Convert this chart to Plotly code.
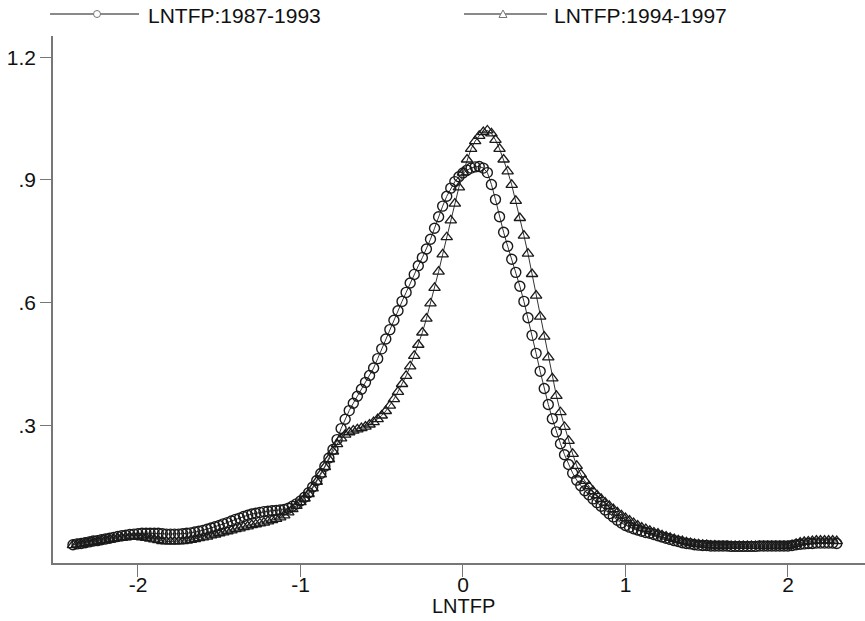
import plotly.graph_objects as go

# Evaluation grid of the kernel density (LNTFP)
lntfp_grid = [
    -2.400, -2.375, -2.350, -2.325, -2.300, -2.275, -2.250, -2.225, -2.200, -2.175,
    -2.150, -2.125, -2.100, -2.075, -2.050, -2.025, -2.000, -1.975, -1.950, -1.925,
    -1.900, -1.875, -1.850, -1.825, -1.800, -1.775, -1.750, -1.725, -1.700, -1.675,
    -1.650, -1.625, -1.600, -1.575, -1.550, -1.525, -1.500, -1.475, -1.450, -1.425,
    -1.400, -1.375, -1.350, -1.325, -1.300, -1.275, -1.250, -1.225, -1.200, -1.175,
    -1.150, -1.125, -1.100, -1.075, -1.050, -1.025, -1.000, -0.975, -0.950, -0.925,
    -0.900, -0.875, -0.850, -0.825, -0.800, -0.775, -0.750, -0.725, -0.700, -0.675,
    -0.650, -0.625, -0.600, -0.575, -0.550, -0.525, -0.500, -0.475, -0.450, -0.425,
    -0.400, -0.375, -0.350, -0.325, -0.300, -0.275, -0.250, -0.225, -0.200, -0.175,
    -0.150, -0.125, -0.100, -0.075, -0.050, -0.025, 0.000, 0.025, 0.050, 0.075,
    0.100, 0.125, 0.150, 0.175, 0.200, 0.225, 0.250, 0.275, 0.300, 0.325,
    0.350, 0.375, 0.400, 0.425, 0.450, 0.475, 0.500, 0.525, 0.550, 0.575,
    0.600, 0.625, 0.650, 0.675, 0.700, 0.725, 0.750, 0.775, 0.800, 0.825,
    0.850, 0.875, 0.900, 0.925, 0.950, 0.975, 1.000, 1.025, 1.050, 1.075,
    1.100, 1.125, 1.150, 1.175, 1.200, 1.225, 1.250, 1.275, 1.300, 1.325,
    1.350, 1.375, 1.400, 1.425, 1.450, 1.475, 1.500, 1.525, 1.550, 1.575,
    1.600, 1.625, 1.650, 1.675, 1.700, 1.725, 1.750, 1.775, 1.800, 1.825,
    1.850, 1.875, 1.900, 1.925, 1.950, 1.975, 2.000, 2.025, 2.050, 2.075,
    2.100, 2.125, 2.150, 2.175, 2.200, 2.225, 2.250, 2.275, 2.300,
]

# Density, 1987-1993 (circles)
density_1987_1993 = [
    0.008, 0.010, 0.011, 0.013, 0.015, 0.017, 0.018, 0.020, 0.022, 0.024,
    0.026, 0.028, 0.030, 0.031, 0.033, 0.034, 0.035, 0.036, 0.036, 0.036,
    0.036, 0.036, 0.035, 0.034, 0.034, 0.034, 0.034, 0.035, 0.036, 0.037,
    0.039, 0.041, 0.043, 0.046, 0.049, 0.052, 0.055, 0.059, 0.062, 0.066,
    0.070, 0.073, 0.077, 0.080, 0.083, 0.085, 0.087, 0.089, 0.090, 0.091,
    0.092, 0.093, 0.094, 0.097, 0.102, 0.108, 0.115, 0.124, 0.135, 0.149,
    0.165, 0.182, 0.200, 0.220, 0.241, 0.265, 0.292, 0.315, 0.336, 0.354,
    0.371, 0.388, 0.405, 0.422, 0.440, 0.463, 0.487, 0.511, 0.534, 0.557,
    0.580, 0.603, 0.625, 0.648, 0.669, 0.690, 0.710, 0.731, 0.755, 0.782,
    0.810, 0.836, 0.860, 0.880, 0.896, 0.908, 0.917, 0.924, 0.929, 0.932,
    0.933, 0.929, 0.918, 0.889, 0.852, 0.810, 0.772, 0.738, 0.706, 0.674,
    0.640, 0.603, 0.563, 0.520, 0.476, 0.432, 0.390, 0.351, 0.316, 0.284,
    0.255, 0.228, 0.204, 0.183, 0.166, 0.152, 0.140, 0.130, 0.120, 0.111,
    0.102, 0.093, 0.084, 0.076, 0.068, 0.061, 0.055, 0.051, 0.047, 0.044,
    0.041, 0.038, 0.036, 0.033, 0.030, 0.027, 0.024, 0.021, 0.018, 0.016,
    0.013, 0.011, 0.010, 0.008, 0.007, 0.006, 0.006, 0.005, 0.005, 0.005,
    0.005, 0.005, 0.004, 0.004, 0.004, 0.004, 0.004, 0.004, 0.004, 0.005,
    0.005, 0.005, 0.005, 0.005, 0.005, 0.005, 0.005, 0.006, 0.008, 0.009,
    0.010, 0.011, 0.011, 0.012, 0.012, 0.012, 0.012, 0.012, 0.011,
]

# Density, 1994-1997 (triangles)
density_1994_1997 = [
    0.007, 0.009, 0.010, 0.012, 0.014, 0.015, 0.017, 0.019, 0.020, 0.022,
    0.023, 0.024, 0.025, 0.026, 0.027, 0.027, 0.027, 0.026, 0.025, 0.023,
    0.021, 0.019, 0.017, 0.016, 0.016, 0.016, 0.016, 0.017, 0.018, 0.020,
    0.022, 0.024, 0.026, 0.028, 0.031, 0.033, 0.036, 0.038, 0.041, 0.043,
    0.046, 0.048, 0.051, 0.053, 0.056, 0.058, 0.060, 0.062, 0.065, 0.068,
    0.071, 0.075, 0.080, 0.087, 0.095, 0.103, 0.112, 0.121, 0.132, 0.146,
    0.162, 0.180, 0.198, 0.217, 0.236, 0.254, 0.268, 0.277, 0.283, 0.287,
    0.290, 0.293, 0.297, 0.302, 0.308, 0.315, 0.324, 0.335, 0.348, 0.364,
    0.382, 0.401, 0.421, 0.444, 0.470, 0.497, 0.527, 0.561, 0.598, 0.636,
    0.676, 0.718, 0.760, 0.801, 0.842, 0.882, 0.918, 0.950, 0.976, 0.995,
    1.008, 1.017, 1.021, 1.014, 0.998, 0.976, 0.950, 0.921, 0.888, 0.849,
    0.807, 0.764, 0.720, 0.670, 0.617, 0.566, 0.517, 0.466, 0.415, 0.372,
    0.332, 0.296, 0.262, 0.230, 0.201, 0.180, 0.164, 0.151, 0.139, 0.129,
    0.120, 0.111, 0.103, 0.095, 0.087, 0.080, 0.073, 0.067, 0.061, 0.055,
    0.050, 0.046, 0.042, 0.038, 0.035, 0.031, 0.028, 0.025, 0.022, 0.019,
    0.017, 0.014, 0.012, 0.010, 0.009, 0.008, 0.007, 0.006, 0.006, 0.005,
    0.005, 0.005, 0.005, 0.005, 0.005, 0.005, 0.005, 0.005, 0.005, 0.005,
    0.005, 0.005, 0.005, 0.005, 0.005, 0.005, 0.005, 0.007, 0.010, 0.013,
    0.015, 0.016, 0.017, 0.018, 0.018, 0.018, 0.018, 0.018, 0.017,
]

series_names = ["LNTFP:1987-1993", "LNTFP:1994-1997"]
x_ticks = [-2, -1, 0, 1, 2]
x_tick_labels = ["-2", "-1", "0", "1", "2"]
y_ticks = [0.3, 0.6, 0.9, 1.2]
y_tick_labels = [".3", ".6", ".9", "1.2"]
x_title = "LNTFP"

FONT = "Liberation Sans, Arial, Helvetica, sans-serif"
W, H = 865, 621
# plot area in window pixels: x 53..865, y 36..563 (page margin removed below)
L, T, R, B = 53, 36, 0, 621 - 563
PW, PH = W - L - R, H - T - B


def px(xw):
    return (xw - L) / PW


def py(yw):
    return (H - B - yw) / PH


fig = go.Figure()
fig.add_trace(go.Scatter(
    x=lntfp_grid, y=density_1987_1993, mode="lines+markers", name=series_names[0],
    line=dict(color="#333333", width=1),
    marker=dict(symbol="circle-open", size=10, color="#1a1a1a", line=dict(width=1.4)),
))
fig.add_trace(go.Scatter(
    x=lntfp_grid, y=density_1994_1997, mode="lines+markers", name=series_names[1],
    line=dict(color="#333333", width=1),
    marker=dict(symbol="triangle-up-open", size=10, color="#1a1a1a", line=dict(width=1.3)),
))

shapes = []
annotations = []
# manual legend (Stata-style)
leg_y = 14
for (x0, x1, mx, tx, sym, name) in [
    (50, 139, 97, 146, "circle", series_names[0]),
    (464, 547, 503, 552, "triangle", series_names[1]),
]:
    shapes.append(dict(type="line", xref="paper", yref="paper",
                       x0=px(x0), x1=px(x1), y0=py(leg_y), y1=py(leg_y),
                       line=dict(color="#8a8a8a", width=2)))
    if sym == "circle":
        shapes.append(dict(type="circle", xref="paper", yref="paper",
                           x0=px(mx - 3.5), x1=px(mx + 3.5), y0=py(leg_y + 3.5), y1=py(leg_y - 3.5),
                           fillcolor="white", line=dict(color="#777777", width=1)))
    else:
        path = "M {} {} L {} {} L {} {} Z".format(px(mx), py(leg_y - 4), px(mx - 4), py(leg_y + 3.5),
                                               px(mx + 4), py(leg_y + 3.5))
        shapes.append(dict(type="path", xref="paper", yref="paper", path=path,
                           fillcolor="white", line=dict(color="#777777", width=1)))
    annotations.append(dict(x=px(tx), y=py(leg_y + 1), xref="paper", yref="paper", text=name,
                            showarrow=False, xanchor="left", yanchor="middle",
                            font=dict(family=FONT, size=21, color="#111111")))

annotations.append(dict(x=px(463), y=py(606), xref="paper", yref="paper", text=x_title,
                        showarrow=False, xanchor="center", yanchor="middle",
                        font=dict(family=FONT, size=20, color="#111111")))

fig.update_layout(
    width=W, height=H,
    margin=dict(l=L, r=R, t=T, b=B, autoexpand=False),
    paper_bgcolor="white", plot_bgcolor="white",
    showlegend=False,
    shapes=shapes, annotations=annotations,
    font=dict(family=FONT, size=20, color="#111111"),
)
fig.update_xaxes(
    range=[-2.523, 2.474], showgrid=False, zeroline=False, automargin=False,
    showline=True, linecolor="#777777", linewidth=1.5,
    ticks="outside", ticklen=12, tickwidth=1.2, tickcolor="#777777",
    tickvals=x_ticks, ticktext=x_tick_labels, ticklabelstandoff=-10,
    tickfont=dict(family=FONT, size=21, color="#111111"),
)
fig.update_yaxes(
    range=[-0.0367, 1.252], showgrid=False, zeroline=False, automargin=False,
    showline=True, linecolor="#777777", linewidth=1.5,
    ticks="outside", ticklen=11, tickwidth=1.2, tickcolor="#777777",
    tickvals=y_ticks, ticktext=y_tick_labels,
    tickfont=dict(family=FONT, size=21, color="#111111"),
)

fig.write_html("out.html", config={"displayModeBar": False},
               post_script="document.body.style.margin='0';")
